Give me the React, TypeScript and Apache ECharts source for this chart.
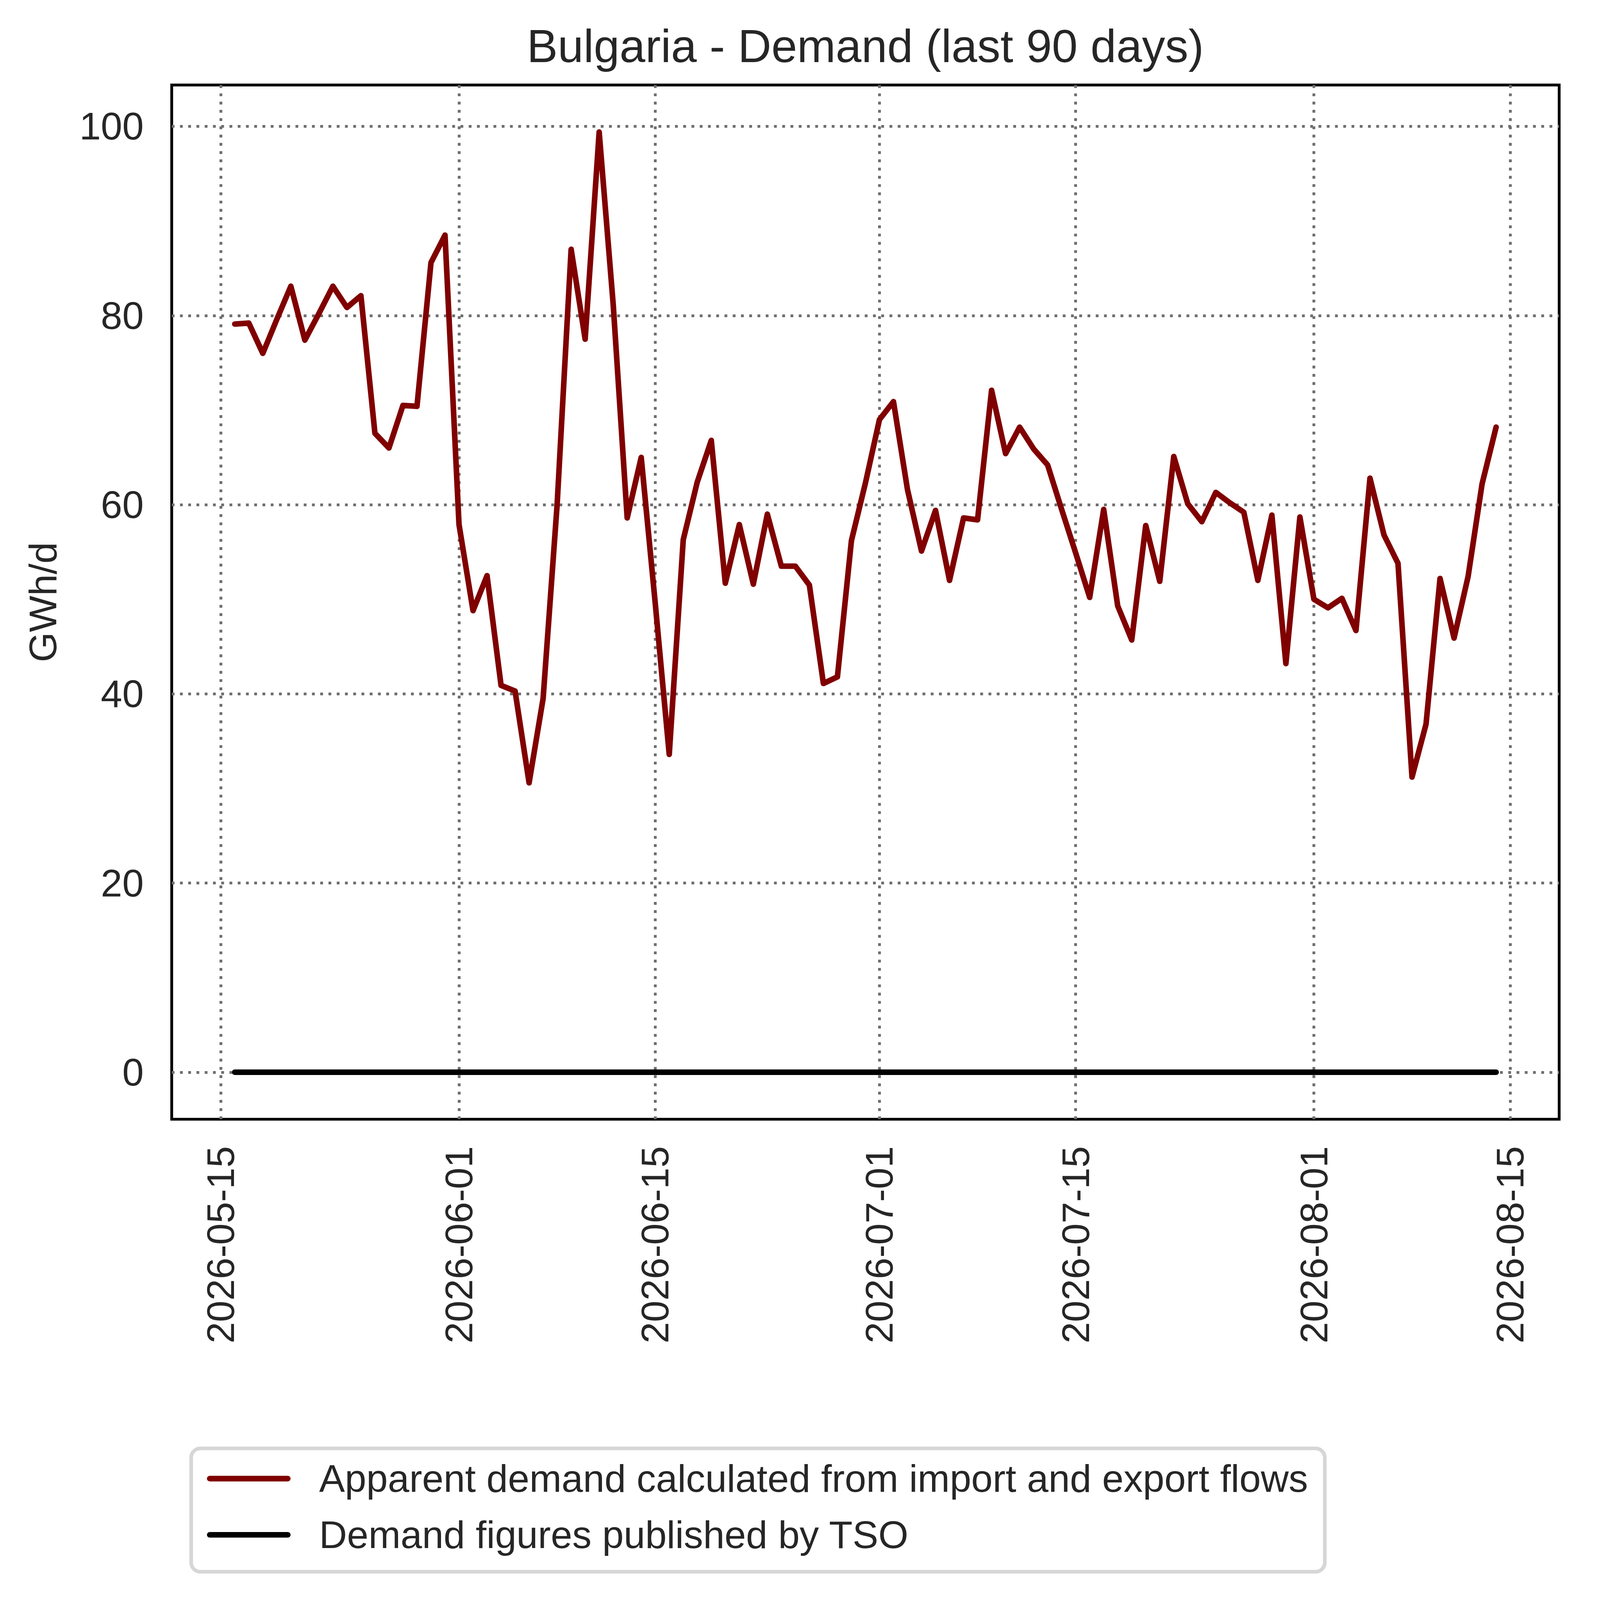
import React, { useEffect, useRef } from 'react';
import * as echarts from 'echarts';

const TITLE = 'Bulgaria - Demand (last 90 days)';
const Y_NAME = 'GWh/d';
const SERIES_NAMES = [
  'Apparent demand calculated from import and export flows',
  'Demand figures published by TSO',
];
const SERIES_COLORS = ['#800000', '#000000'];

// first day of the daily series (one value per day)
const START_DATE = '2026-05-16';
const DAY_COUNT = 91;

const apparentDemand = [
  79.1, 79.2, 76.0, 79.6, 83.1, 77.4, 80.2, 83.1, 80.85, 82.1,
  67.55, 66.0, 70.5, 70.4, 85.6, 88.5, 57.9, 48.8, 52.5, 40.9,
  40.3, 30.6, 39.5, 60.0, 87.0, 77.5, 99.4, 81.2, 58.6, 65.0,
  49.6, 33.6, 56.3, 62.4, 66.8, 51.7, 57.9, 51.6, 59.0, 53.5,
  53.5, 51.5, 41.1, 41.8, 56.2, 62.3, 69.0, 70.9, 61.6, 55.1,
  59.4, 52.0, 58.6, 58.4, 72.1, 65.4, 68.2, 65.9, 64.2, 59.5,
  54.9, 50.2, 59.5, 49.3, 45.7, 57.8, 51.9, 65.1, 60.1, 58.2,
  61.3, 60.2, 59.2, 52.0, 58.9, 43.2, 58.7, 50.0, 49.1, 50.1,
  46.7, 62.8, 56.8, 53.8, 31.2, 36.8, 52.2, 45.9, 52.4, 62.2,
  68.2,
];

const tsoDemand = [
  0, 0, 0, 0, 0, 0, 0, 0, 0, 0,
  0, 0, 0, 0, 0, 0, 0, 0, 0, 0,
  0, 0, 0, 0, 0, 0, 0, 0, 0, 0,
  0, 0, 0, 0, 0, 0, 0, 0, 0, 0,
  0, 0, 0, 0, 0, 0, 0, 0, 0, 0,
  0, 0, 0, 0, 0, 0, 0, 0, 0, 0,
  0, 0, 0, 0, 0, 0, 0, 0, 0, 0,
  0, 0, 0, 0, 0, 0, 0, 0, 0, 0,
  0, 0, 0, 0, 0, 0, 0, 0, 0, 0,
  0,
];

const xTickDates = [
  '2026-05-15', '2026-06-01', '2026-06-15', '2026-07-01',
  '2026-07-15', '2026-08-01', '2026-08-15',
];
const yTickValues = [0, 20, 40, 60, 80, 100];

const X_MIN = '2026-05-11T12:00:00Z';
const X_MAX = '2026-08-18T12:00:00Z';
const Y_MIN = -4.97;
const Y_MAX = 104.37;

// design size of the reference picture
const REF_W = 5675;
const REF_H = 5721;

const FONT = '"Liberation Sans", Arial, Helvetica, sans-serif';
const TEXT_COLOR = '#262626';
const GRID_COLOR = '#6e6e6e';
const DAY_MS = 86400000;

const toTs = (s: string) => Date.parse(s.length <= 10 ? s + 'T00:00:00Z' : s);
const startTs = toTs(START_DATE);
const dates: number[] = [];
for (let i = 0; i < DAY_COUNT; i++) dates.push(startTs + i * DAY_MS);

const fmtDate = (v: number) => new Date(v).toISOString().slice(0, 10);

export default function App() {
  const ref = useRef<HTMLDivElement | null>(null);

  useEffect(() => {
    const el = ref.current;
    if (!el) return;
    const W = el.clientWidth || window.innerWidth;
    const H = el.clientHeight || window.innerHeight;
    const S = Math.min(W / REF_W, H / REF_H);
    const p = (v: number) => v * S;

    const chart = echarts.init(el, null, { renderer: 'svg', width: W, height: H });

    const gridLines = [
      ...yTickValues.map((v) => ({ yAxis: v })),
      ...xTickDates.map((d) => ({ xAxis: toTs(d) })),
    ];

    const option: any = {
      animation: false,
      backgroundColor: '#ffffff',
      textStyle: { fontFamily: FONT },
      graphic: [
        {
          type: 'text',
          x: p(3094),
          y: p(164.6),
          silent: true,
          style: {
            text: TITLE,
            fontSize: p(165.6),
            fontFamily: FONT,
            fill: TEXT_COLOR,
            align: 'center',
            verticalAlign: 'middle',
            textAlign: 'center',
            textVerticalAlign: 'middle',
          },
        },
      ],
      grid: {
        left: p(614),
        top: p(304),
        width: p(4961),
        height: p(3698),
        show: true,
        borderColor: '#000000',
        borderWidth: p(10),
        backgroundColor: '#ffffff',
        containLabel: false,
        outerBoundsMode: 'none',
      },
      xAxis: {
        type: 'value',
        min: toTs(X_MIN),
        max: toTs(X_MAX),
        axisLine: { show: false },
        axisTick: { show: false },
        splitLine: { show: false },
        axisLabel: {
          customValues: xTickDates.map(toTs),
          formatter: (v: number) => fmtDate(v),
          rotate: 90,
          margin: p(96),
          fontSize: p(138),
          color: TEXT_COLOR,
          fontFamily: FONT,
          hideOverlap: false,
        },
      },
      yAxis: {
        type: 'value',
        min: Y_MIN,
        max: Y_MAX,
        axisLine: { show: false },
        axisTick: { show: false },
        splitLine: { show: false },
        axisLabel: {
          customValues: yTickValues,
          margin: p(100),
          fontSize: p(138),
          color: TEXT_COLOR,
          fontFamily: FONT,
        },
        name: Y_NAME,
        nameLocation: 'middle',
        nameRotate: 90,
        nameGap: p(391),
        nameTextStyle: {
          fontSize: p(138),
          lineHeight: p(138),
          color: TEXT_COLOR,
          fontFamily: FONT,
        },
      },
      legend: {
        orient: 'vertical',
        left: p(683.5),
        top: p(5179),
        data: SERIES_NAMES,
        itemWidth: p(279),
        itemHeight: p(20),
        itemGap: p(61),
        padding: [p(38), p(60), p(62), p(56.5)],
        borderColor: '#d6d6d6',
        borderWidth: p(13),
        borderRadius: p(33),
        backgroundColor: '#ffffff',
        selectedMode: false,
        lineStyle: { width: p(20), cap: 'round' },
        textStyle: {
          fontSize: p(138),
          lineHeight: p(140),
          color: TEXT_COLOR,
          fontFamily: FONT,
          padding: [0, 0, 0, p(105)],
        },
      },
      series: [
        {
          name: SERIES_NAMES[0],
          type: 'line',
          data: dates.map((t, i) => [t, apparentDemand[i]]),
          symbol: 'none',
          showSymbol: false,
          silent: true,
          z: 3,
          lineStyle: { color: SERIES_COLORS[0], width: p(20), cap: 'round', join: 'round' },
          itemStyle: { color: SERIES_COLORS[0] },
          markLine: {
            silent: true,
            z: 1,
            symbol: ['none', 'none'],
            label: { show: false },
            emphasis: { disabled: true },
            animation: false,
            lineStyle: { color: GRID_COLOR, width: p(10), type: [p(10), p(19.5)], cap: 'butt' },
            data: gridLines,
          },
        },
        {
          name: SERIES_NAMES[1],
          type: 'line',
          data: dates.map((t, i) => [t, tsoDemand[i]]),
          symbol: 'none',
          showSymbol: false,
          silent: true,
          z: 4,
          lineStyle: { color: SERIES_COLORS[1], width: p(20), cap: 'round', join: 'round' },
          itemStyle: { color: SERIES_COLORS[1] },
        },
      ],
    };

    chart.setOption(option);
    return () => chart.dispose();
  }, []);

  return (
    <div
      ref={ref}
      style={{
        position: 'fixed',
        left: 0,
        top: 0,
        width: '100vw',
        height: '100vh',
        background: '#fff',
        overflow: 'hidden',
      }}
    />
  );
}
